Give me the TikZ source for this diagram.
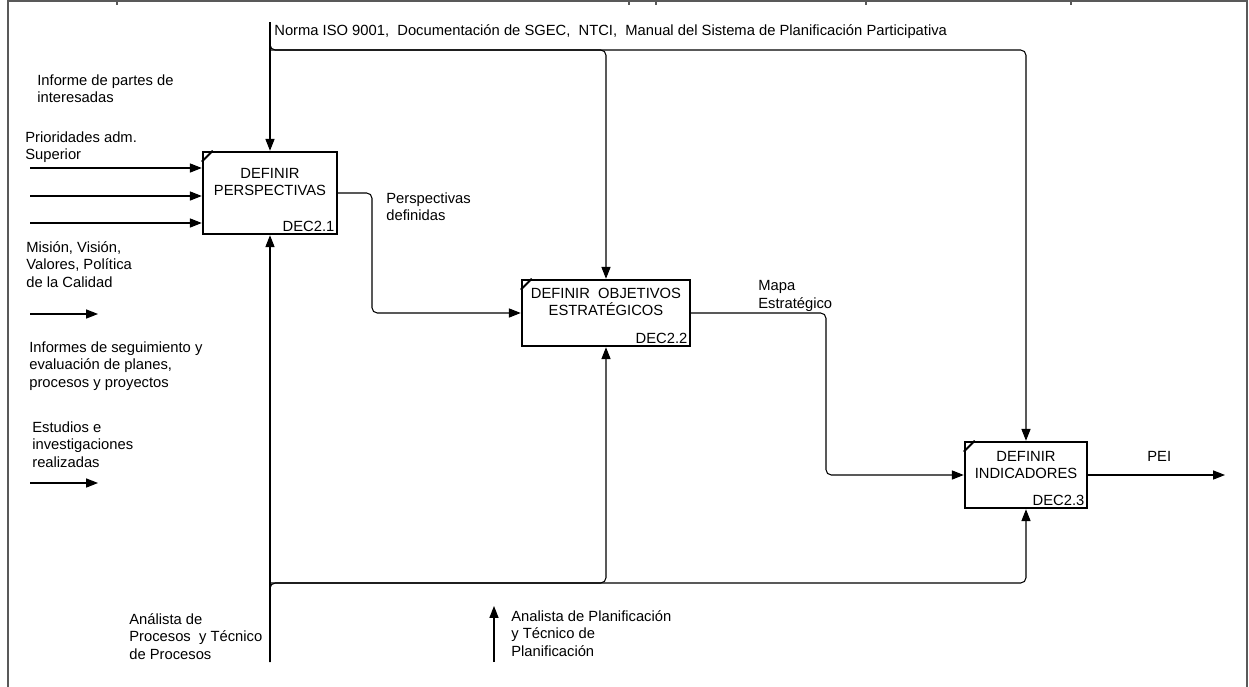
\documentclass[tikz,border=0pt]{standalone}
\usepackage{fontspec}
\setmainfont{Liberation Sans}
\usetikzlibrary{arrows.meta, positioning, calc}

\begin{document}
\begin{tikzpicture}[
    x=0.02cm, y=-0.02cm,
    every node/.style={font=\fontsize{8.4}{10.1}\selectfont},
    lbl/.style={anchor=north west, align=left, inner sep=0pt},
    func/.style={draw, line width=1.4pt, inner sep=0pt},
    ttl/.style={align=center, inner sep=0pt},
    code/.style={anchor=south east, inner sep=2pt},
    flow/.style={line width=0.6pt, -{Triangle[length=6.8pt, width=5.2pt]}},
    bus/.style={line width=0.6pt, rounded corners=3pt},
    frame/.style={draw=black!65, line width=1.1pt}
]
    \useasboundingbox (0,0) rectangle (1249,687);

    % Frame
    \draw[frame] (8,687) -- (8,1) -- (1247,1) -- (1247,687);
    \foreach \tx in {117,629,656,866,1071}
        \draw[black!65, line width=0.6pt] (\tx,0) -- (\tx,5);

    % Functions
    \node[func, minimum width=2.68cm, minimum height=1.64cm] (f1) at (270,193) {};
    \node[func, minimum width=3.36cm, minimum height=1.32cm] (f2) at (606,313) {};
    \node[func, minimum width=2.44cm, minimum height=1.32cm] (f3) at (1026,475) {};

    \node[ttl] (t1) at ($(f1.center)+(0,-11)$) {DEFINIR\\PERSPECTIVAS};
    \node[ttl] (t2) at ($(f2.center)+(0,-11)$) {DEFINIR \ OBJETIVOS\\ESTRATÉGICOS};
    \node[ttl] (t3) at ($(f3.center)+(0,-10)$) {DEFINIR\\INDICADORES};

    \node[code] (c1) at (f1.south east) {DEC2.1};
    \node[code] (c2) at (f2.south east) {DEC2.2};
    \node[code] (c3) at (f3.south east) {DEC2.3};

    \foreach \f in {f1,f2,f3}
        \draw[line width=1.1pt] (\f.north west) ++(0,11) -- ++(11,-11);

    % Inputs
    \coordinate (in1) at (30,168);
    \coordinate (in2) at (30,196);
    \coordinate (in3) at (30,223);
    \draw[flow] (in1) -- (in1 -| f1.west);
    \draw[flow] (in2) -- (in2 -| f1.west);
    \draw[flow] (in3) -- (in3 -| f1.west);

    \coordinate (in4) at (30,314);
    \coordinate (in4e) at (98,314);
    \coordinate (in5) at (30,483);
    \coordinate (in5e) at (98,483);
    \draw[flow] (in4) -- (in4e);
    \draw[flow] (in5) -- (in5e);

    \node[lbl] (l1) at (37,74) {Informe de partes de\\interesadas};
    \node[lbl] (l2) at (25,131) {Prioridades adm.\\Superior};
    \node[lbl] (l3) at (26,241) {Misión, Visión,\\Valores, Política\\de la Calidad};
    \node[lbl] (l4) at (29,341) {Informes de seguimiento y\\evaluación de planes,\\procesos y proyectos};
    \node[lbl] (l5) at (32,421) {Estudios e\\investigaciones\\realizadas};

    % Controls
    \coordinate (ctl) at (270,22);
    \coordinate (ctlbus) at (270,50);
    \draw[flow] (ctl) -- (f1.north);
    \draw[bus, flow] (ctl) |- (ctlbus -| f3.north) -- (f3.north);
    \draw[bus, flow] (ctlbus) -| (f2.north);
    \node[lbl] (lc) at (274,24) {Norma ISO 9001, \ Documentación de SGEC, \ NTCI, \ Manual del Sistema de Planificación Participativa};

    % Outputs
    \coordinate (o1) at (372,0);
    \coordinate (o2) at (826,0);
    \coordinate (pei) at (1225,475);
    \draw[bus, flow] (f1.east) -| (o1 |- f2.west) -- (f2.west);
    \draw[bus, flow] (f2.east) -| (o2 |- f3.west) -- (f3.west);
    \draw[flow] (f3.east) -- (pei);
    \node[lbl] (lo1) at (386,192) {Perspectivas\\definidas};
    \node[lbl] (lo2) at (758,280) {Mapa\\Estratégico};
    \node[lbl] (lo3) at (1147,451) {PEI};

    % Mechanisms
    \coordinate (mec) at (270,662);
    \coordinate (mecbus) at (270,583);
    \draw[flow] (mec) -- (f1.south);
    \draw[bus, flow] (mec) |- (mecbus -| f3.south) -- (f3.south);
    \draw[bus, flow] (mecbus) -| (f2.south);
    \coordinate (mec2) at (494,662);
    \coordinate (mec2e) at (494,606);
    \draw[flow] (mec2) -- (mec2e);
    \node[lbl] (lm1) at (129,613) {Análista de\\Procesos \ y Técnico\\de Procesos};
    \node[lbl] (lm2) at (511,610) {Analista de Planificación\\y Técnico de\\Planificación};

\end{tikzpicture}
\end{document}
